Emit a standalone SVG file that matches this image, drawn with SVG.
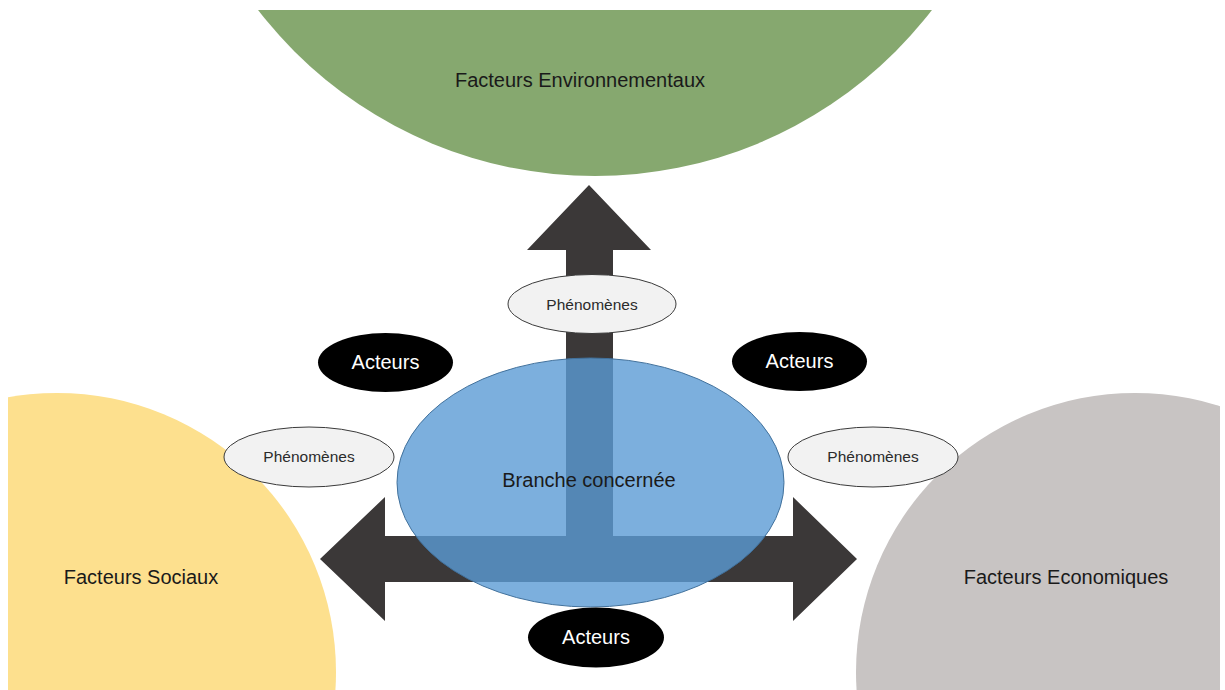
<svg xmlns="http://www.w3.org/2000/svg" width="1225" height="690" viewBox="0 0 1225 690">
  <style>
    .lbl { font-family: "Liberation Sans", Arial, sans-serif; font-size: 20px; fill: #1a1a1a; text-anchor: middle; }
    .act { font-family: "Liberation Sans", Arial, sans-serif; font-size: 20px; fill: #ffffff; text-anchor: middle; }
    .phe { font-family: "Liberation Sans", Arial, sans-serif; font-size: 15.5px; fill: #2b2b2b; text-anchor: middle; }
    .phen { fill: #f2f2f2; stroke: #3a3a3a; stroke-width: 1; }
    .actn { fill: #000000; }
  </style>
  <defs>
    <clipPath id="frame">
      <rect x="8" y="10" width="1212" height="680"/>
    </clipPath>
  </defs>
  <rect width="1225" height="690" fill="#ffffff"/>

  <g id="env" clip-path="url(#frame)">
    <circle cx="595" cy="-249" r="425" fill="#86a86f"/>
    <text class="lbl" x="580" y="87">Facteurs Environnementaux</text>
  </g>
  <g id="soc" clip-path="url(#frame)">
    <circle cx="57" cy="672" r="279" fill="#fde08e"/>
    <text class="lbl" x="141" y="584">Facteurs Sociaux</text>
  </g>
  <g id="eco" clip-path="url(#frame)">
    <circle cx="1135" cy="672" r="279" fill="#c8c4c3"/>
    <text class="lbl" x="1066" y="584">Facteurs Economiques</text>
  </g>

  <g id="connectors">
    <polygon fill="#3b3838" points="589,185 651,250 613,250 613,536 793,536 793,497 857,559 793,621 793,582 385,582 385,621 320,559 385,497 385,536 566,536 566,250 527,250"/>
  </g>

  <g id="branche">
    <ellipse cx="590.5" cy="482.5" rx="193.5" ry="124.5" fill="#5b9bd5" fill-opacity="0.8" stroke="#41719c" stroke-width="1"/>
    <text class="lbl" x="589" y="487">Branche concernée</text>
  </g>

  <g id="phen-top">
    <ellipse class="phen" cx="592" cy="304" rx="84" ry="29.5"/>
    <text class="phe" x="592" y="310">Phénomènes</text>
  </g>
  <g id="phen-left">
    <ellipse class="phen" cx="309" cy="457" rx="85" ry="30"/>
    <text class="phe" x="309" y="462">Phénomènes</text>
  </g>
  <g id="phen-right">
    <ellipse class="phen" cx="873" cy="457" rx="85" ry="30"/>
    <text class="phe" x="873" y="462">Phénomènes</text>
  </g>

  <g id="act-left">
    <ellipse class="actn" cx="385.5" cy="362.5" rx="67.5" ry="29.5"/>
    <text class="act" x="385.5" y="369">Acteurs</text>
  </g>
  <g id="act-right">
    <ellipse class="actn" cx="799.5" cy="361.5" rx="67.5" ry="29.5"/>
    <text class="act" x="799.5" y="368">Acteurs</text>
  </g>
  <g id="act-bottom">
    <ellipse class="actn" cx="596" cy="637.5" rx="68" ry="30"/>
    <text class="act" x="596" y="644">Acteurs</text>
  </g>
</svg>
